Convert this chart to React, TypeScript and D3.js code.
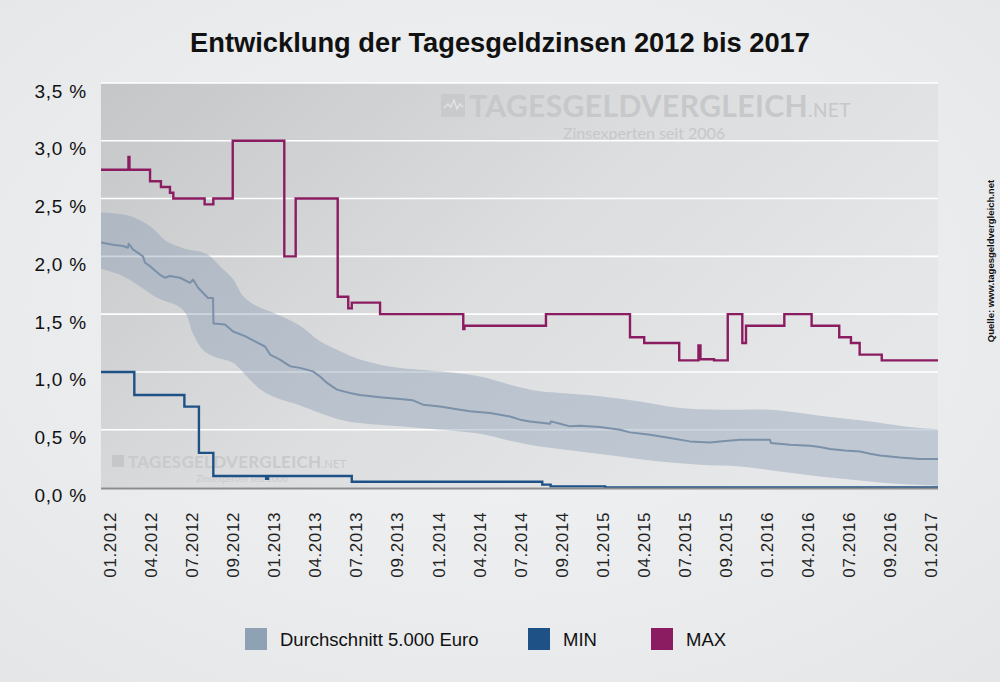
import React from "react";
import * as d3 from "d3";

// ---------- DATA ----------
const xTickLabels = [
  "01.2012", "04.2012", "07.2012", "09.2012", "01.2013", "04.2013", "07.2013", "09.2013",
  "01.2014", "04.2014", "07.2014", "09.2014", "01.2015", "04.2015", "07.2015", "09.2015",
  "01.2016", "04.2016", "07.2016", "09.2016", "01.2017",
];
const yTicks = [0, 0.5, 1, 1.5, 2, 2.5, 3, 3.5];

// MAX (step series), x in decimal years
const maxX = [2012.0, 2012.164, 2012.17, 2012.293, 2012.358, 2012.412, 2012.432, 2012.619, 2012.671, 2012.787,
  2013.095, 2013.163, 2013.414, 2013.477, 2013.498, 2013.667, 2014.164, 2014.171, 2014.658, 2015.16,
  2015.245, 2015.454, 2015.569, 2015.581, 2015.662, 2015.744, 2015.831, 2015.853, 2016.082, 2016.245,
  2016.41, 2016.48, 2016.532, 2016.664, 2017.0];
const maxY = [2.75, 2.86, 2.75, 2.65, 2.6, 2.55, 2.5, 2.45, 2.5, 3.0,
  2.0, 2.5, 1.65, 1.55, 1.6, 1.5, 1.37, 1.4, 1.5, 1.3,
  1.25, 1.1, 1.23, 1.11, 1.1, 1.5, 1.25, 1.4, 1.5, 1.4,
  1.3, 1.25, 1.15, 1.1, 1.1];

// MIN (step series)
const minX = [2012.0, 2012.199, 2012.498, 2012.585, 2012.671, 2012.986, 2012.998, 2013.498, 2014.636, 2014.686, 2015.011, 2017.0];
const minY = [1.0, 0.8, 0.7, 0.3, 0.1, 0.075, 0.1, 0.05, 0.025, 0.01, 0.0, 0.0];

// Average 5.000 Euro
const avgX = [2012.0, 2012.072, 2012.131, 2012.161, 2012.165, 2012.191, 2012.251, 2012.263, 2012.293, 2012.352,
  2012.382, 2012.412, 2012.472, 2012.532, 2012.55, 2012.579, 2012.609, 2012.639, 2012.669, 2012.672,
  2012.741, 2012.789, 2012.86, 2012.92, 2012.98, 2013.01, 2013.069, 2013.129, 2013.189, 2013.266,
  2013.308, 2013.35, 2013.41, 2013.487, 2013.547, 2013.667, 2013.786, 2013.864, 2013.924, 2014.025,
  2014.145, 2014.204, 2014.324, 2014.384, 2014.443, 2014.503, 2014.563, 2014.683, 2014.688, 2014.742,
  2014.802, 2014.861, 2014.981, 2015.1, 2015.16, 2015.28, 2015.399, 2015.518, 2015.638, 2015.697,
  2015.817, 2015.996, 2016.002, 2016.116, 2016.235, 2016.295, 2016.355, 2016.444, 2016.534, 2016.594,
  2016.654, 2016.713, 2016.773, 2016.892, 2017.0];
const avgY = [2.12, 2.1, 2.09, 2.075, 2.11, 2.06, 2.0, 1.945, 1.915, 1.84,
  1.815, 1.83, 1.815, 1.77, 1.8, 1.73, 1.685, 1.64, 1.64, 1.42,
  1.41, 1.35, 1.31, 1.265, 1.22, 1.15, 1.107, 1.05, 1.035, 1.005,
  0.96, 0.905, 0.847, 0.818, 0.8, 0.78, 0.766, 0.754, 0.717, 0.7,
  0.673, 0.66, 0.645, 0.63, 0.615, 0.587, 0.572, 0.552, 0.572, 0.552,
  0.529, 0.535, 0.523, 0.5, 0.477, 0.457, 0.428, 0.399, 0.39, 0.399,
  0.413, 0.413, 0.385, 0.37, 0.361, 0.35, 0.333, 0.32, 0.312, 0.292,
  0.277, 0.269, 0.26, 0.246, 0.246];

// Range band (upper / lower)
const bandUpX = [2012.0, 2012.173, 2012.293, 2012.392, 2012.492, 2012.631, 2012.711, 2012.79, 2012.85, 2012.93,
  2013.05, 2013.189, 2013.308, 2013.428, 2013.547, 2013.667, 2013.786, 2014.025, 2014.264, 2014.443,
  2014.622, 2014.742, 2014.981, 2015.22, 2015.459, 2015.698, 2015.996, 2016.176, 2016.355, 2016.594,
  2016.773, 2016.892, 2017.0];
const bandUpY = [2.38, 2.35, 2.26, 2.13, 2.07, 2.02, 1.915, 1.8, 1.655, 1.57,
  1.5, 1.4, 1.265, 1.18, 1.107, 1.063, 1.035, 1.005, 0.96, 0.89,
  0.832, 0.818, 0.79, 0.745, 0.688, 0.673, 0.673, 0.645, 0.61, 0.572,
  0.535, 0.515, 0.505];
const bandLoX = [2012.0, 2012.114, 2012.233, 2012.352, 2012.46, 2012.508, 2012.55, 2012.609, 2012.681, 2012.789,
  2012.872, 2012.95, 2013.039, 2013.189, 2013.308, 2013.428, 2013.547, 2013.786, 2014.025, 2014.264,
  2014.443, 2014.622, 2014.861, 2015.1, 2015.339, 2015.578, 2015.817, 2016.056, 2016.295, 2016.534,
  2016.773, 2017.0];
const bandLoY = [1.89, 1.84, 1.74, 1.63, 1.57, 1.5, 1.33, 1.19, 1.13, 1.08,
  0.96, 0.85, 0.78, 0.71, 0.645, 0.587, 0.558, 0.529, 0.5, 0.465,
  0.405, 0.355, 0.312, 0.269, 0.225, 0.197, 0.182, 0.139, 0.095, 0.06,
  0.03, 0.015];

const legendItems = ["Durchschnitt 5.000 Euro", "MIN", "MAX"];
const legendColors = ["#8fa1b5", "#1e5286", "#8b1c62"];

// ---------- LAYOUT ----------
const W = 1000;
const H = 682;
const plot = { left: 101, right: 938, top: 83, bottom: 487.5 };

const x = d3.scaleLinear().domain([2012, 2017]).range([plot.left, plot.right]);
const y = d3.scaleLinear().domain([0, 3.5]).range([plot.bottom, plot.top]);
const xLab = d3.scalePoint<string>().domain(xTickLabels).range([110, 931]);

const de = d3.formatLocale({ decimal: ",", thousands: ".", grouping: [3], currency: ["", " €"] });
const fmt = (v: number) => de.format(".1f")(v) + " %";

const zip = (xs: number[], ys: number[]) => xs.map((v, i) => [v, ys[i]] as [number, number]);

const stepLine = d3.line<[number, number]>().x((d) => x(d[0])).y((d) => y(d[1])).curve(d3.curveStepAfter);
const plainLine = d3.line<[number, number]>().x((d) => x(d[0])).y((d) => y(d[1]));
const smoothLine = d3.line<[number, number]>().x((d) => x(d[0])).y((d) => y(d[1])).curve(d3.curveCatmullRom.alpha(0.5));

const upperPath = smoothLine(zip(bandUpX, bandUpY)) || "";
const lowerPath = smoothLine(zip(bandLoX, bandLoY).reverse()) || "";
const bandPath = upperPath + "L" + lowerPath.slice(1) + "Z";

const FONT = "'Liberation Sans', Arial, Helvetica, sans-serif";
const WM_FONT = "Lato, 'Open Sans', sans-serif";

export default function App() {
  const legendX = [245, 528, 651];
  return (
    <svg width={W} height={H} style={{ display: "block", position: "absolute", left: 0, top: 0 }} fontFamily={FONT}>
      <defs>
        <radialGradient id="pageBg" cx="0.5" cy="0.45" r="0.75">
          <stop offset="0" stopColor="#f3f4f5" />
          <stop offset="1" stopColor="#e4e6e8" />
        </radialGradient>
        <linearGradient id="plotBg" x1="0" y1="0" x2="1" y2="0.55">
          <stop offset="0" stopColor="#c5c6c7" />
          <stop offset="0.55" stopColor="#dcddde" />
          <stop offset="1" stopColor="#e6e7e8" />
        </linearGradient>
        <clipPath id="plotClip">
          <rect x={plot.left} y={plot.top - 2} width={plot.right - plot.left} height={plot.bottom - plot.top + 4} />
        </clipPath>
      </defs>

      <rect x={0} y={0} width={W} height={H} fill="url(#pageBg)" />

      {/* title */}
      <text x={500} y={52} textAnchor="middle" fontSize={27.3} fontWeight="bold" fill="#111">
        Entwicklung der Tagesgeldzinsen 2012 bis 2017
      </text>

      {/* plot background */}
      <rect x={plot.left} y={plot.top} width={plot.right - plot.left} height={plot.bottom - plot.top} fill="url(#plotBg)" />

      {/* watermarks */}
      <g fill="#c6c8ca">
        <rect x={441} y={94} width={24} height={23} fill="#c8cacc" />
        <path d="M444,108 l4,-4 l3,3 l3,-7 l3,9 l3,-5 l3,3" fill="none" stroke="#e2e3e4" strokeWidth={1.5} />
        <text x={469} y={116.5} fontFamily={WM_FONT} fontWeight={700} fontSize={30} letterSpacing={0.4}>
          TAGESGELDVERGLEICH<tspan fontSize={19} fontWeight={400}>.NET</tspan>
        </text>
        <text x={644} y={139} textAnchor="middle" fontFamily={WM_FONT} fontSize={16}>
          Zinsexperten seit 2006
        </text>
      </g>
      <g fill="#c9cacc">
        <rect x={112} y={455} width={12} height={12} fill="#c6c7c9" />
        <text x={128} y={467.5} fontFamily={WM_FONT} fontWeight={700} fontSize={17} letterSpacing={0.3}>
          TAGESGELDVERGLEICH<tspan fontSize={11} fontWeight={400}>.NET</tspan>
        </text>
        <text x={242} y={482} textAnchor="middle" fontFamily={WM_FONT} fontSize={9}>
          Zinsexperten seit 2006
        </text>
      </g>

      {/* grid lines */}
      {yTicks.filter((t) => t > 0).map((t) => (
        <line key={t} x1={plot.left} x2={plot.right} y1={y(t)} y2={y(t)} stroke="#ffffff" strokeWidth={1.6} />
      ))}

      <g clipPath="url(#plotClip)">
        {/* band */}
        <path d={bandPath} fill="rgba(138,157,182,0.42)" />
        {/* average */}
        <path d={plainLine(zip(avgX, avgY)) || ""} fill="none" stroke="#7b90a9" strokeWidth={2} strokeLinejoin="round" />
        {/* MIN */}
        <path d={stepLine(zip(minX, minY)) || ""} fill="none" stroke="#1e5286" strokeWidth={2.4} />
        {/* MAX */}
        <path d={stepLine(zip(maxX, maxY)) || ""} fill="none" stroke="#8b1c62" strokeWidth={2.4} />
      </g>

      {/* x axis line */}
      <line x1={plot.left} x2={plot.right} y1={plot.bottom + 1} y2={plot.bottom + 1} stroke="#8c8c8c" strokeWidth={2} />

      {/* y labels */}
      {yTicks.map((t) => (
        <text key={t} x={87} y={y(t) + 14.5} textAnchor="end" fontSize={19} letterSpacing={0.8} fill="#111">
          {fmt(t)}
        </text>
      ))}

      {/* x labels */}
      {xTickLabels.map((l) => (
        <text
          key={l}
          transform={`translate(${xLab(l)},512) rotate(-90)`}
          textAnchor="end"
          dy="0.36em"
          fontSize={17}
          letterSpacing={0.6}
          fill="#222"
        >
          {l}
        </text>
      ))}

      {/* legend */}
      {legendItems.map((name, i) => (
        <g key={name}>
          <rect x={legendX[i]} y={628} width={22} height={22} fill={legendColors[i]} />
          <text x={legendX[i] + 35} y={645.5} fontSize={18.5} fill="#111">
            {name}
          </text>
        </g>
      ))}

      {/* source */}
      <text transform="translate(991,261) rotate(-90)" textAnchor="middle" dy="0.35em" fontSize={9.5} fontWeight="bold" fill="#111">
        Quelle: www.tagesgeldvergleich.net
      </text>
    </svg>
  );
}
